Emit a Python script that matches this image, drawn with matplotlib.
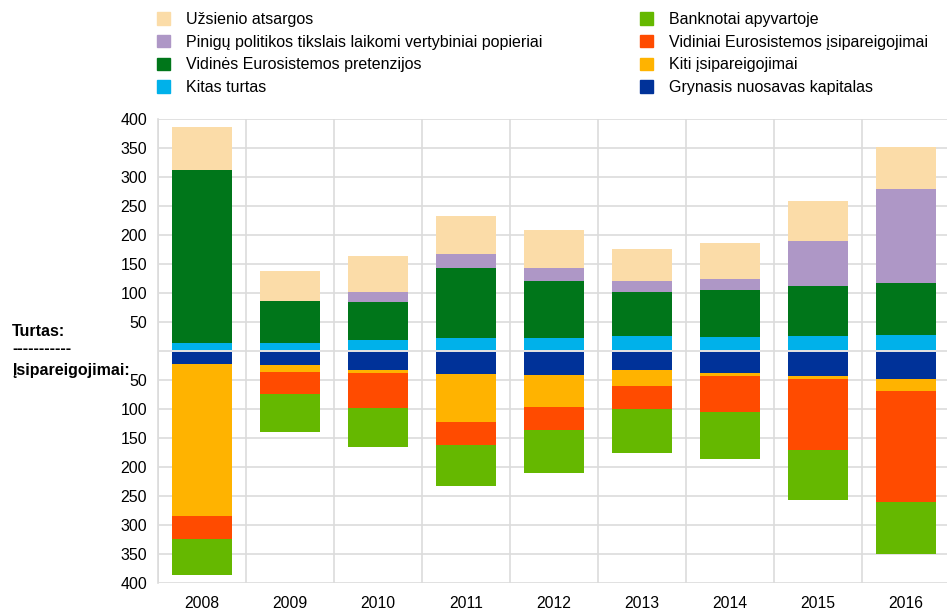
import numpy as np
import matplotlib
matplotlib.use("Agg")
import matplotlib.pyplot as plt
from matplotlib.patches import Patch

plt.rcParams['font.family'] = ['Liberation Sans', 'DejaVu Sans']

years = ['2008', '2009', '2010', '2011', '2012', '2013', '2014', '2015', '2016']

# assets (drawn upwards, bottom to top)
kitas_turtas = [13, 13, 17, 21, 21, 24, 23, 24, 26]
vidines_pretenzijos = [297, 71, 66, 120, 99, 76, 81, 86, 89]
pinigu_politikos = [0, 1, 18, 24, 21, 19, 18, 78, 162]
uzsienio_atsargos = [74, 52, 62, 67, 66, 55, 63, 69, 73]

# liabilities (drawn downwards, top to bottom)
grynasis_kapitalas = [21, 22, 32, 39, 40, 31, 37, 42, 46]
kiti_isipareigojimai = [262, 12, 4, 82, 55, 28, 4, 5, 22]
vidiniai_isipareigojimai = [40, 39, 61, 40, 40, 39, 62, 123, 191]
banknotai = [61, 65, 67, 71, 73, 76, 82, 86, 90]

assets = [
    ('Kitas turtas', kitas_turtas, '#00B1EA'),
    ('Vidinės Eurosistemos pretenzijos', vidines_pretenzijos, '#00761A'),
    ('Pinigų politikos tikslais laikomi vertybiniai popieriai', pinigu_politikos, '#AE97C6'),
    ('Užsienio atsargos', uzsienio_atsargos, '#FBDCA8'),
]
liabilities = [
    ('Grynasis nuosavas kapitalas', grynasis_kapitalas, '#003299'),
    ('Kiti įsipareigojimai', kiti_isipareigojimai, '#FFB300'),
    ('Vidiniai Eurosistemos įsipareigojimai', vidiniai_isipareigojimai, '#FF4B00'),
    ('Banknotai apyvartoje', banknotai, '#65B800'),
]

fig = plt.figure(figsize=(9.47, 6.09), dpi=100)
ax = fig.add_axes([158 / 947, 26 / 609, 792 / 947, 464 / 609])

x = np.arange(len(years))
w = 0.68
grid_c = '#DCDCDC'

bottom = np.zeros(len(years))
for name, vals, col in assets:
    v = np.array(vals, dtype=float)
    ax.bar(x, v, w, bottom=bottom + 1.5, color=col, edgecolor='none', zorder=2)
    bottom += v

bottom = np.zeros(len(years))
for name, vals, col in liabilities:
    v = np.array(vals, dtype=float)
    ax.bar(x, -v, w, bottom=bottom - 1.5, color=col, edgecolor='none', zorder=2)
    bottom -= v

ax.set_xlim(-0.5, len(years) - 0.5)
ax.set_ylim(-400, 400)
yt = np.arange(-400, 401, 50)
ax.set_yticks(yt)
ax.set_yticklabels(['' if t == 0 else str(abs(t)) for t in yt], fontsize=11.5)
ax.set_xticks(x)
ax.set_xticklabels(years, fontsize=11.3)
ax.set_xticks(np.arange(-0.5, len(years), 1), minor=True)
ax.tick_params(axis='both', which='both', length=0)
ax.tick_params(axis='y', pad=8)
ax.tick_params(axis='x', pad=9)
ax.grid(axis='y', which='major', color=grid_c, linewidth=1.2, zorder=0)
ax.grid(axis='x', which='minor', color=grid_c, linewidth=1.2, zorder=0)
ax.set_axisbelow(True)
for s in ax.spines.values():
    s.set_visible(False)
ax.spines['left'].set_visible(True)
ax.spines['left'].set_color(grid_c)
ax.spines['left'].set_linewidth(1.2)

# side labels
fig.text(12 / 947, 1 - 331 / 609, 'Turtas:', fontsize=11.5, fontweight='bold', va='center')
fig.text(12 / 947, 1 - 349 / 609, '-----------', fontsize=11.5, fontweight='bold', va='center')
fig.text(12 / 947, 1 - 370 / 609, 'Įsipareigojimai:', fontsize=11.5, fontweight='bold', va='center')

# legends
left_items = [assets[3], assets[2], assets[1], assets[0]]
right_items = [liabilities[3], liabilities[2], liabilities[1], liabilities[0]]
common = dict(frameon=False, fontsize=11.5, handlelength=0.8, handleheight=0.8,
              handletextpad=1.0, labelspacing=0.48, borderaxespad=0, borderpad=0)
fig.legend(handles=[Patch(color=c, label=n) for n, v, c in left_items],
           loc='upper left', bbox_to_anchor=(157 / 947, 1 - 12 / 609), **common)
fig.legend(handles=[Patch(color=c, label=n) for n, v, c in right_items],
           loc='upper left', bbox_to_anchor=(640 / 947, 1 - 12 / 609), **common)

fig.savefig('out.png', dpi=100)
